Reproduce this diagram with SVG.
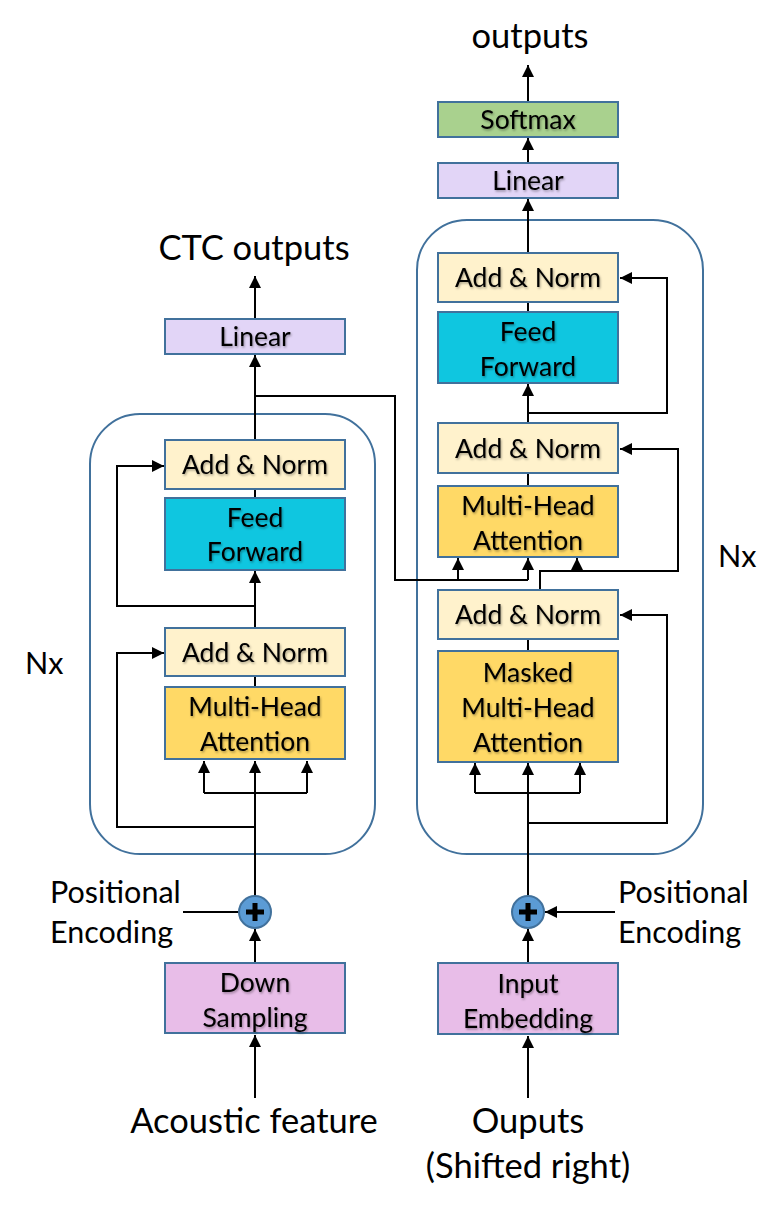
<svg xmlns="http://www.w3.org/2000/svg" width="781" height="1211" viewBox="0 0 781 1211">
<defs>
<filter id="sh" x="-10%" y="-20%" width="130%" height="150%">
<feDropShadow dx="1" dy="1.5" stdDeviation="0.8" flood-color="#000" flood-opacity="0.35"/>
</filter>
<marker id="ah" viewBox="0 0 10 10" refX="10" refY="5" markerWidth="12" markerHeight="12" markerUnits="userSpaceOnUse" orient="auto">
<path d="M0,0 L10,5 L0,10 z" fill="#000"/>
</marker>
</defs>
<style>
.box{stroke:#41719c;stroke-width:2}
.an{fill:#fff2cc}
.ff{fill:#0fc6e0}
.mha{fill:#ffd966}
.lin{fill:#e2d5f7}
.sm{fill:#a9d18e}
.emb{fill:#e8bde8}
.blk{fill:none;stroke:#41719c;stroke-width:2}
.t{font-family:Lato,"Liberation Sans",sans-serif;font-size:26.5px;fill:#000;text-anchor:middle;filter:url(#sh)}
.o{font-family:Lato,"Liberation Sans",sans-serif;font-size:34.5px;fill:#000;text-anchor:middle}
.p{font-family:Lato,"Liberation Sans",sans-serif;font-size:30.5px;fill:#000}
.c{fill:none;stroke:#000;stroke-width:2}
.a{fill:none;stroke:#000;stroke-width:2;marker-end:url(#ah)}
.plus{fill:#5b9bd5;stroke:#41719c;stroke-width:2}
</style>

<g id="enc-block"><rect class="blk" x="90" y="414" width="285" height="440" rx="50"/></g>
<g id="dec-block"><rect class="blk" x="417" y="220" width="286" height="634" rx="50"/></g>

<g id="connectors">
<!-- encoder -->
<path class="a" d="M255,1098 V1035"/>
<path class="a" d="M255,963 V929"/>
<path class="c" d="M183,912 H239"/>
<path class="a" d="M255,896 V761"/>
<path class="c" d="M204,793 H307"/>
<path class="a" d="M204,793 V761"/>
<path class="a" d="M307,793 V761"/>
<path class="a" d="M255,827 H117 V653 H164"/>
<path class="c" d="M255,687 V676"/>
<path class="a" d="M255,628 V571"/>
<path class="a" d="M255,606 H117 V466 H164"/>
<path class="c" d="M255,498 V489"/>
<path class="a" d="M255,440 V355"/>
<path class="a" d="M255,319 V276"/>
<path class="c" d="M255,396 H395 V580 H528"/>
<path class="a" d="M458,580 V558"/>
<path class="a" d="M528,580 V558"/>
<!-- decoder -->
<path class="a" d="M528,1098 V1036"/>
<path class="a" d="M528,963 V929"/>
<path class="a" d="M615,912 H545"/>
<path class="a" d="M528,896 V763"/>
<path class="c" d="M475,793 H580"/>
<path class="a" d="M475,793 V763"/>
<path class="a" d="M580,793 V763"/>
<path class="a" d="M528,823 H667 V615 H620"/>
<path class="c" d="M528,651 V639"/>
<path class="c" d="M540,590 V571 H678 V449 H620"/>
<path class="a" d="M678,449 H620"/>
<path class="a" d="M577,571 V558"/>
<path class="c" d="M528,486 V473"/>
<path class="a" d="M528,423 V384"/>
<path class="a" d="M528,413 H667 V278 H620"/>
<path class="c" d="M528,312 V302"/>
<path class="a" d="M528,253 V199"/>
<path class="a" d="M528,163 V138"/>
<path class="a" d="M528,102 V65"/>
</g>

<g id="ctc-outputs"><text class="o" x="254" y="260">CTC outputs</text></g>
<g id="enc-linear"><rect class="box lin" x="165" y="319" width="180" height="35"/><text class="t" x="255" y="346">Linear</text></g>
<g id="enc-addnorm2"><rect class="box an" x="165" y="440" width="180" height="49"/><text class="t" x="255" y="474">Add &amp; Norm</text></g>
<g id="enc-ff"><rect class="box ff" x="165" y="498" width="180" height="72"/><text class="t" x="255" y="527">Feed</text><text class="t" x="255" y="561">Forward</text></g>
<g id="enc-addnorm1"><rect class="box an" x="165" y="628" width="180" height="48"/><text class="t" x="255" y="662">Add &amp; Norm</text></g>
<g id="enc-mha"><rect class="box mha" x="165" y="687" width="180" height="72"/><text class="t" x="255" y="716">Multi-Head</text><text class="t" x="255" y="751">Attention</text></g>
<g id="enc-plus"><circle class="plus" cx="255" cy="912" r="16"/><path d="M255,903 V921 M246,912 H264" stroke="#000" stroke-width="5"/></g>
<g id="enc-pe"><text class="p" x="50" y="903">Positional</text><text class="p" x="50" y="943">Encoding</text></g>
<g id="down-sampling"><rect class="box emb" x="165" y="963" width="180" height="70"/><text class="t" x="255" y="992">Down</text><text class="t" x="255" y="1027">Sampling</text></g>
<g id="acoustic"><text class="o" x="254" y="1133">Acoustic feature</text></g>
<g id="nx-left"><text class="p" x="25" y="674">Nx</text></g>

<g id="outputs"><text class="o" x="530" y="48">outputs</text></g>
<g id="softmax"><rect class="box sm" x="438" y="102" width="180" height="35"/><text class="t" x="528" y="129">Softmax</text></g>
<g id="dec-linear"><rect class="box lin" x="438" y="163" width="180" height="35"/><text class="t" x="528" y="190">Linear</text></g>
<g id="dec-addnorm3"><rect class="box an" x="438" y="253" width="180" height="49"/><text class="t" x="528" y="287">Add &amp; Norm</text></g>
<g id="dec-ff"><rect class="box ff" x="438" y="312" width="180" height="71"/><text class="t" x="528" y="341">Feed</text><text class="t" x="528" y="376">Forward</text></g>
<g id="dec-addnorm2"><rect class="box an" x="438" y="423" width="180" height="50"/><text class="t" x="528" y="458">Add &amp; Norm</text></g>
<g id="dec-mha"><rect class="box mha" x="438" y="486" width="180" height="71"/><text class="t" x="528" y="515">Multi-Head</text><text class="t" x="528" y="550">Attention</text></g>
<g id="dec-addnorm1"><rect class="box an" x="438" y="590" width="180" height="49"/><text class="t" x="528" y="624">Add &amp; Norm</text></g>
<g id="dec-masked"><rect class="box mha" x="438" y="651" width="180" height="111"/><text class="t" x="528" y="682">Masked</text><text class="t" x="528" y="717">Multi-Head</text><text class="t" x="528" y="752">Attention</text></g>
<g id="dec-plus"><circle class="plus" cx="528" cy="912" r="16"/><path d="M528,903 V921 M519,912 H537" stroke="#000" stroke-width="5"/></g>
<g id="dec-pe"><text class="p" x="618" y="903">Positional</text><text class="p" x="618" y="943">Encoding</text></g>
<g id="input-embedding"><rect class="box emb" x="438" y="963" width="180" height="71"/><text class="t" x="528" y="993">Input</text><text class="t" x="528" y="1028">Embedding</text></g>
<g id="shifted"><text class="o" x="528" y="1133">Ouputs</text><text class="o" x="528" y="1178">(Shifted right)</text></g>
<g id="nx-right"><text class="p" x="718" y="567">Nx</text></g>
</svg>
